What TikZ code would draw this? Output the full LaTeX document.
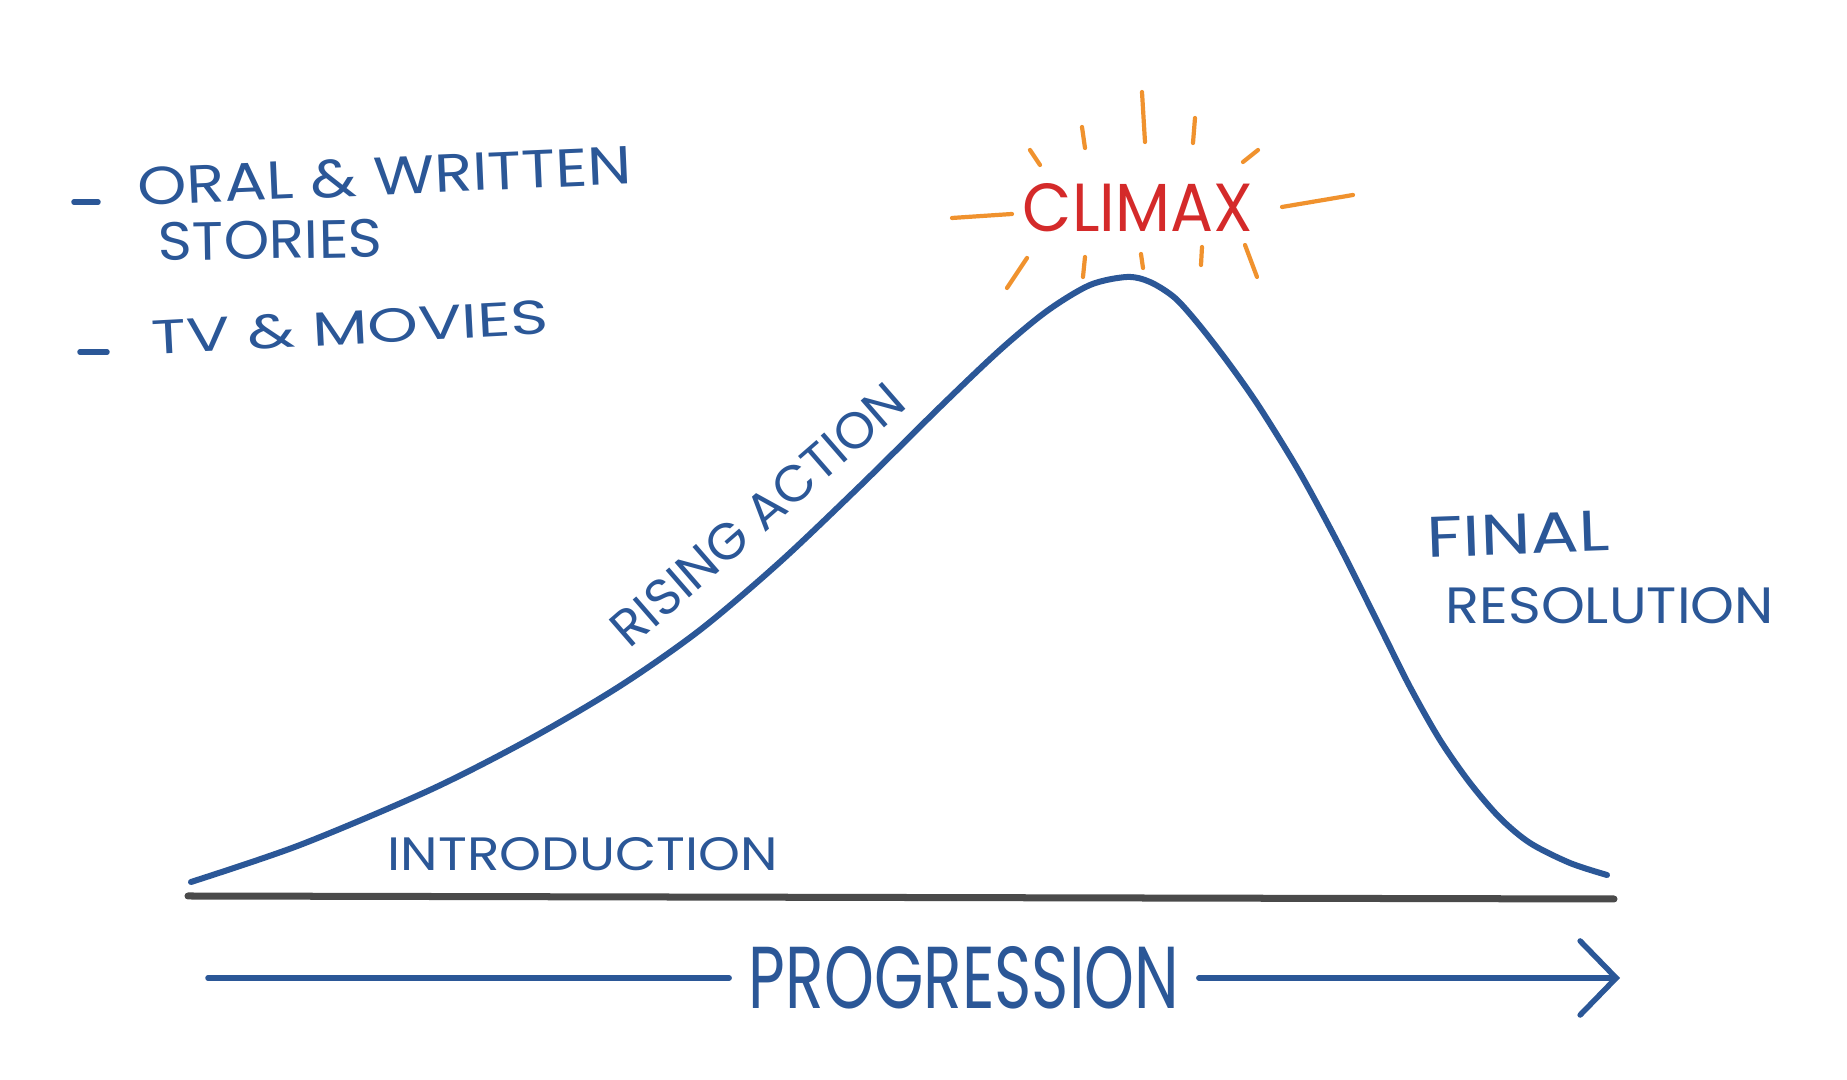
\documentclass[tikz,border=0pt]{standalone}
\usepackage{fontspec}
\setmainfont{Poppins}
\usetikzlibrary{arrows.meta}
\definecolor{ink}{HTML}{2B5797}
\definecolor{climaxred}{HTML}{D42A2A}
\definecolor{rayorange}{HTML}{F0922E}
\definecolor{axisgray}{HTML}{4A4A4A}
\newcommand{\handtext}[3]{\resizebox{#1cm}{#2cm}{#3}}
\tikzset{
  hand/.style={inner sep=0pt, text=ink},
  curveline/.style={draw=ink, line width=0.06cm, line cap=round, line join=round},
  inkline/.style={draw=ink, line width=0.055cm, line cap=round},
  rayline/.style={draw=rayorange, line width=0.042cm, line cap=round},
  axisline/.style={draw=axisgray, line width=0.07cm, line cap=round},
}
\begin{document}
\begin{tikzpicture}[x=0.01cm, y=-0.01cm]
\fill[white] (0,0) rectangle (1847,1080);
\useasboundingbox (0,0) rectangle (1847,1080);

% bullet list
\coordinate (d1a) at (74,202);
\coordinate (d1b) at (98,202);
\draw[inkline] (d1a) -- (d1b);
\node[hand, anchor=south west, rotate=2.5] (oral) at (138,207) {\handtext{4.94}{0.38}{ORAL \& WRITTEN}};
\node[hand, anchor=south west, rotate=1] (stories) at (158,262) {\handtext{2.24}{0.38}{STORIES}};
\coordinate (d2a) at (80,352);
\coordinate (d2b) at (107,352);
\draw[inkline] (d2a) -- (d2b);
\node[hand, anchor=south west, rotate=3] (tv) at (152,356) {\handtext{3.97}{0.34}{TV \& MOVIES}};

% axis
\coordinate (axl) at (188,896);
\coordinate (axr) at (1614,899);
\draw[axisline] (axl) -- (axr);

% story curve
\draw[curveline] plot[smooth, tension=0.5] coordinates {
 (191,882) (300,845) (430,790) (530,739) (620,686) (700,630) (780,562)
 (860,486) (940,407) (1000,350) (1047,311) (1090,285) (1127,277)
 (1150,282) (1175,298) (1200,326) (1230,365) (1260,408) (1300,473)
 (1340,547) (1380,627) (1410,687) (1440,740) (1470,783) (1500,818)
 (1530,843) (1570,863) (1607,875)};

% labels on curve
\node[hand, anchor=south west] (intro) at (387,872) {\handtext{3.90}{0.33}{INTRODUCTION}};
\node[hand, rotate=41] (rising) at (758,515) {\handtext{3.70}{0.36}{RISING ACTION}};
\node[hand, anchor=south west, rotate=2] (final) at (1427,558) {\handtext{1.83}{0.40}{FINAL}};
\node[hand, anchor=south west] (resol) at (1445,625) {\handtext{3.28}{0.36}{RESOLUTION}};

% climax
\node[inner sep=0pt, text=climaxred] (climax) at (1138,208) {\handtext{2.30}{0.48}{CLIMAX}};
\draw[rayline] (1142,92) -- (1145,142);
\draw[rayline] (1082,127) -- (1085,148);
\draw[rayline] (1030,150) -- (1040,165);
\draw[rayline] (1195,118) -- (1193,143);
\draw[rayline] (1258,150) -- (1243,162);
\draw[rayline] (952,218) -- (1012,214);
\draw[rayline] (1282,207) -- (1353,195);
\draw[rayline] (1027,258) -- (1007,288);
\draw[rayline] (1085,257) -- (1083,277);
\draw[rayline] (1141,254) -- (1143,268);
\draw[rayline] (1202,247) -- (1201,265);
\draw[rayline] (1245,245) -- (1257,277);

% progression arrow
\node[hand, inner xsep=0.19cm] (prog) at (964,978) {\handtext{4.30}{0.62}{PROGRESSION}};
\coordinate (pstart) at (208,978);
\coordinate (pend) at (1620,978);
\draw[inkline] (pstart) -- (prog.west);
\draw[inkline, -{Straight Barb[length=0.36cm, width=0.74cm, line cap=round]}] (prog.east) -- (pend);
\end{tikzpicture}
\end{document}
